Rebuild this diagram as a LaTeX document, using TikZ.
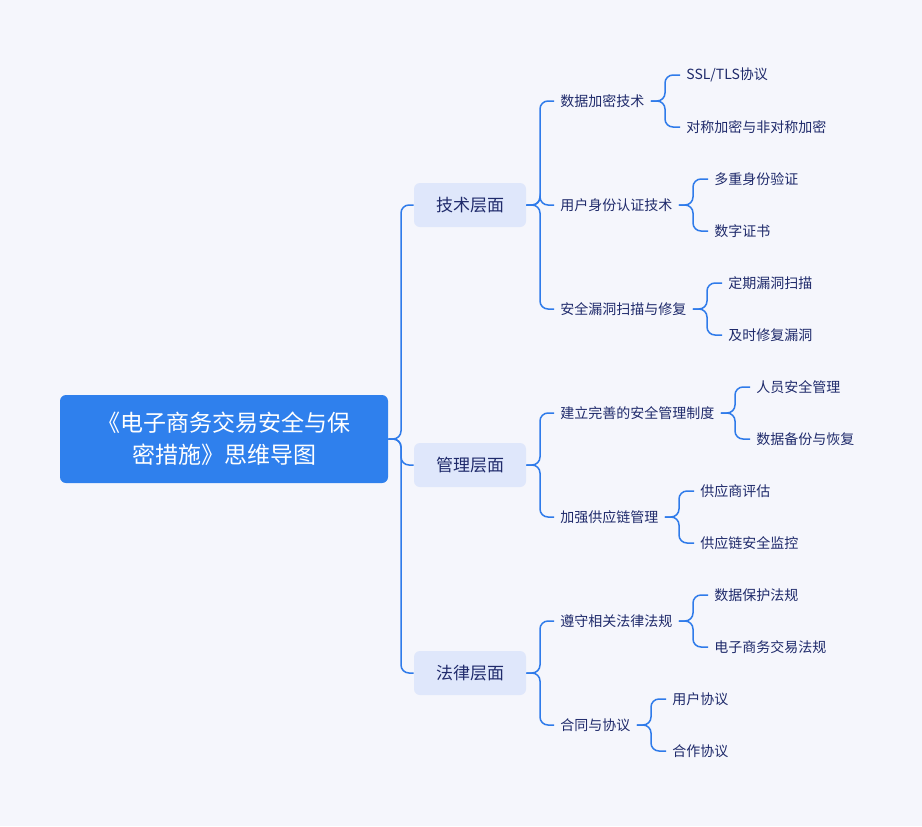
\documentclass[tikz,border=0pt]{standalone}
\usepackage{fontspec}
\setmainfont{Noto Sans CJK SC}
\usetikzlibrary{calc}
\definecolor{bgcol}{HTML}{F5F6FC}
\definecolor{rootcol}{HTML}{2F80ED}
\definecolor{tagcol}{HTML}{DFE7FB}
\definecolor{linecol}{HTML}{2F7BEA}
\definecolor{txtcol}{HTML}{1F2A6B}
\tikzset{
  root/.style={fill=rootcol, rounded corners=3pt, text=white, minimum width=164pt,
    minimum height=44pt, align=center, font=\fontsize{11.5}{16}\selectfont},
  tag/.style={fill=tagcol, rounded corners=3pt, text=txtcol, minimum width=56pt,
    minimum height=22pt, font=\fontsize{8.5}{10}\selectfont},
  item/.style={anchor=west, inner sep=0pt, text=txtcol, font=\fontsize{7}{8}\selectfont},
  link/.style={draw=linecol, line width=0.75pt, rounded corners=4pt}
}
\begin{document}
\begin{tikzpicture}[x=0.5pt, y=-0.5pt]
        \fill[bgcol] (0,0) rectangle (922,826);
        % root and main branches
        \node[root] (root) at (224,439) {《电子商务交易安全与保\\密措施》思维导图};
        \node[tag] (tech) at (470,205) {技术层面};
        \node[tag] (mgmt) at (470,465) {管理层面};
        \node[tag] (law)  at (470,673) {法律层面};
        % second level
        \node[item] (encrypt)  at (560,101) {数据加密技术};
        \node[item] (auth)     at (560,205) {用户身份认证技术};
        \node[item] (scan)     at (560,309) {安全漏洞扫描与修复};
        \node[item] (system)   at (560,413) {建立完善的安全管理制度};
        \node[item] (supply)   at (560,517) {加强供应链管理};
        \node[item] (rules)    at (560,621) {遵守相关法律法规};
        \node[item] (contract) at (560,725) {合同与协议};
        % leaves
        \node[item] (ssl)      at (686,75)  {SSL/TLS协议};
        \node[item] (sym)      at (686,127) {对称加密与非对称加密};
        \node[item] (multi)    at (714,179) {多重身份验证};
        \node[item] (cert)     at (714,231) {数字证书};
        \node[item] (regular)  at (728,283) {定期漏洞扫描};
        \node[item] (fix)      at (728,335) {及时修复漏洞};
        \node[item] (staff)    at (756,387) {人员安全管理};
        \node[item] (backup)   at (756,439) {数据备份与恢复};
        \node[item] (vendor)   at (700,491) {供应商评估};
        \node[item] (monitor)  at (700,543) {供应链安全监控};
        \node[item] (privacy)  at (714,595) {数据保护法规};
        \node[item] (ecom)     at (714,647) {电子商务交易法规};
        \node[item] (user)     at (672,699) {用户协议};
        \node[item] (partner)  at (672,751) {合作协议};
        % connectors
        \draw[link] (root.east) -- (401,439) |- (tech.west);
        \draw[link] (root.east) -- (401,439) |- (mgmt.west);
        \draw[link] (root.east) -- (401,439) |- (law.west);
        \draw[link] (tech.east) -- (540,205) |- ($(encrypt.west)-(6,0)$);
        \draw[link] (tech.east) -- (540,205) |- ($(auth.west)-(6,0)$);
        \draw[link] (tech.east) -- (540,205) |- ($(scan.west)-(6,0)$);
        \draw[link] (mgmt.east) -- (540,465) |- ($(system.west)-(6,0)$);
        \draw[link] (mgmt.east) -- (540,465) |- ($(supply.west)-(6,0)$);
        \draw[link] (law.east) -- (540,673) |- ($(rules.west)-(6,0)$);
        \draw[link] (law.east) -- (540,673) |- ($(contract.west)-(6,0)$);
        \draw[link] ($(encrypt.east)+(6,0)$) -- (665,101) |- ($(ssl.west)-(6,0)$);
        \draw[link] ($(encrypt.east)+(6,0)$) -- (665,101) |- ($(sym.west)-(6,0)$);
        \draw[link] ($(auth.east)+(6,0)$) -- (693,205) |- ($(multi.west)-(6,0)$);
        \draw[link] ($(auth.east)+(6,0)$) -- (693,205) |- ($(cert.west)-(6,0)$);
        \draw[link] ($(scan.east)+(6,0)$) -- (707,309) |- ($(regular.west)-(6,0)$);
        \draw[link] ($(scan.east)+(6,0)$) -- (707,309) |- ($(fix.west)-(6,0)$);
        \draw[link] ($(system.east)+(6,0)$) -- (735,413) |- ($(staff.west)-(6,0)$);
        \draw[link] ($(system.east)+(6,0)$) -- (735,413) |- ($(backup.west)-(6,0)$);
        \draw[link] ($(supply.east)+(6,0)$) -- (679,517) |- ($(vendor.west)-(6,0)$);
        \draw[link] ($(supply.east)+(6,0)$) -- (679,517) |- ($(monitor.west)-(6,0)$);
        \draw[link] ($(rules.east)+(6,0)$) -- (693,621) |- ($(privacy.west)-(6,0)$);
        \draw[link] ($(rules.east)+(6,0)$) -- (693,621) |- ($(ecom.west)-(6,0)$);
        \draw[link] ($(contract.east)+(6,0)$) -- (651,725) |- ($(user.west)-(6,0)$);
        \draw[link] ($(contract.east)+(6,0)$) -- (651,725) |- ($(partner.west)-(6,0)$);
\end{tikzpicture}
\end{document}
